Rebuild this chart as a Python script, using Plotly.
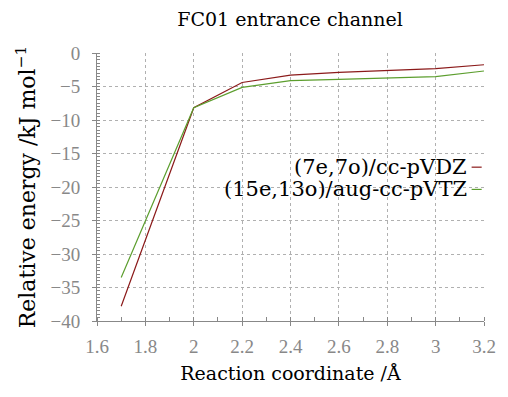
import plotly.graph_objects as go

x_vals = [1.7, 2.0, 2.2, 2.4, 2.6, 2.8, 3.0, 3.2]
vdz = [-37.8, -8.16, -4.4, -3.3, -2.9, -2.64, -2.34, -1.75]
avtz = [-33.5, -8.16, -5.13, -4.13, -3.93, -3.73, -3.54, -2.69]
names = ["(7e,7o)/cc-pVDZ", "(15e,13o)/aug-cc-pVTZ"]
colors = ["#8b1a1a", "#5c9e2e"]

TFONT = "DejaVu Serif"
NFONT = "Liberation Serif"
fig = go.Figure()
for ys, nm, c in zip([vdz, avtz], names, colors):
    fig.add_trace(go.Scatter(x=x_vals, y=ys, mode="lines", name=nm,
                             line=dict(color=c, width=1.2), showlegend=False))

# legend (text right-aligned, sample line to the right)
for i, (nm, c) in enumerate(zip(names, colors)):
    yp = 0.574 - i * 0.083
    fig.add_annotation(x=0.961, y=yp, xref="paper", yref="paper", text=nm,
                       showarrow=False, xanchor="right", yanchor="middle",
                       font=dict(family=TFONT, size=21, color="black"))
    fig.add_shape(type="line", xref="paper", yref="paper", x0=0.968, x1=0.994,
                  y0=yp, y1=yp, line=dict(color=c, width=1.2))

axis_common = dict(showline=True, linecolor="#888888", linewidth=1, mirror=False,
                   showgrid=True, gridcolor="#b0b0b0", griddash="dot", gridwidth=1,
                   zeroline=False, ticks="outside", ticklen=4, tickcolor="#888888",
                   tickfont=dict(family=NFONT, size=19, color="#888888"))

fig.update_xaxes(range=[1.6, 3.2], dtick=0.2, tick0=1.6, ticklabelstandoff=4,
                 minor=dict(dtick=0.1, ticks="inside", ticklen=4, tickcolor="#888888"),
                 title=dict(text="Reaction coordinate /Å", font=dict(family=TFONT, size=19, color="black"), standoff=10),
                 **axis_common)
fig.update_yaxes(range=[-40, 0], dtick=5, tick0=0, ticklabelstandoff=8,
                 minor=dict(dtick=0.5, ticks="inside", ticklen=3, tickcolor="#888888"),
                 title=dict(text="Relative energy /kJ mol<sup>−1</sup>", font=dict(family=TFONT, size=22, color="black"), standoff=8),
                 **axis_common)

fig.update_layout(width=508, height=397, margin=dict(l=97, r=22, t=53, b=76),
                  plot_bgcolor="white", paper_bgcolor="white",
                  title=dict(text="FC01 entrance channel", x=0.571, xanchor="center", y=0.952, yanchor="middle",
                             font=dict(family=TFONT, size=19, color="black")))
fig.write_html("out.html")
